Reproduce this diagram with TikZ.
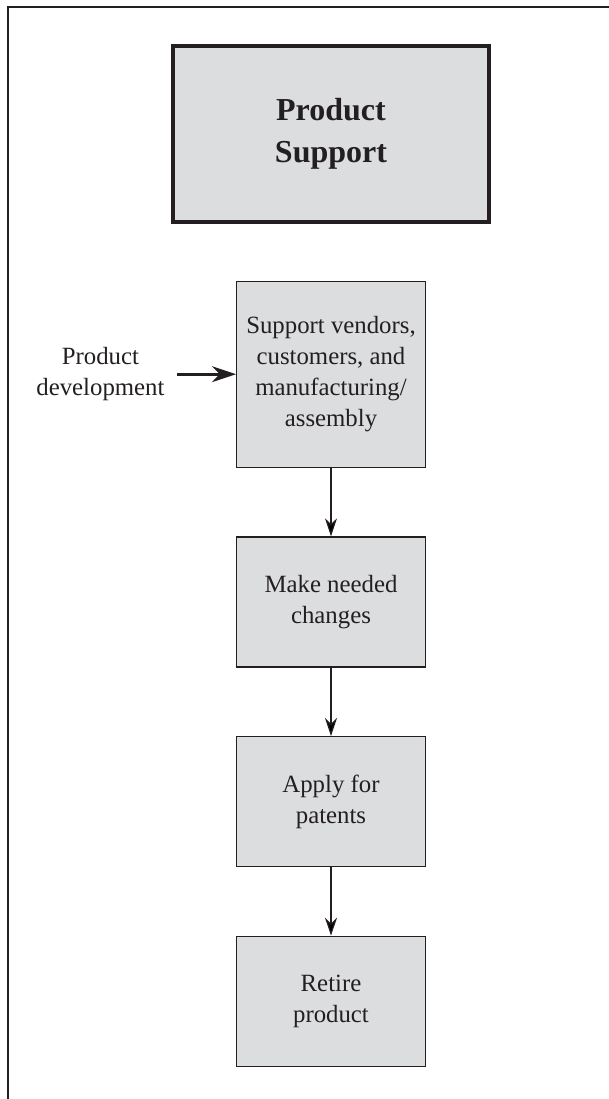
\documentclass[tikz,border=0pt]{standalone}
\usepackage{fontspec}
\setmainfont{Liberation Serif}
\usepackage{tikz}
\usetikzlibrary{arrows.meta,calc,positioning}

\definecolor{boxgray}{RGB}{220,221,223}
\definecolor{inkgray}{RGB}{35,31,32}

\begin{document}
\begin{tikzpicture}[>={Stealth[length=9pt,width=6pt]}, node distance=34.25pt, align=center,
		every node/.style={text=inkgray},
		stepbox/.style={draw=inkgray, fill=boxgray, line width=0.6pt, minimum width=94.5pt, minimum height=65pt,
			font=\fontsize{12.4}{15.5}\selectfont},
		titlebox/.style={draw=inkgray, fill=boxgray, line width=1.6pt, minimum width=158pt, minimum height=88pt,
			font=\fontsize{16}{21}\selectfont\bfseries}]
			\useasboundingbox (0,0) rectangle (304.5pt,-549.5pt);
			\draw[inkgray, line width=0.6pt] (4pt,-549.5pt) -- (4pt,-3.5pt) -- (304.5pt,-3.5pt);
			\node[titlebox] (title) at (165.5pt,-67pt) {Product\\Support};
			\node[stepbox, minimum height=93pt] [below=28.5pt of title] (support) {Support vendors,\\customers, and\\manufacturing/\\assembly};
			\node[stepbox] [below=of support] (changes) {Make needed\\changes};
			\node[stepbox] [below=of changes] (patents) {Apply for\\patents};
			\node[stepbox] [below=of patents] (retire) {Retire\\product};
			\node[inner sep=0pt, font=\fontsize{12.4}{15.5}\selectfont] [left=35.5pt of support] (devlabel) {Product\\development};
			\draw[inkgray, line width=1.3pt, -{Stealth[length=12pt,width=8pt]}, shorten <=6pt] (devlabel.east) -- (support.west);
			\path[->, draw=inkgray, line width=0.6pt]
				(support) edge (changes)
				(changes) edge (patents)
				(patents) edge (retire);
		\end{tikzpicture}
\end{document}
